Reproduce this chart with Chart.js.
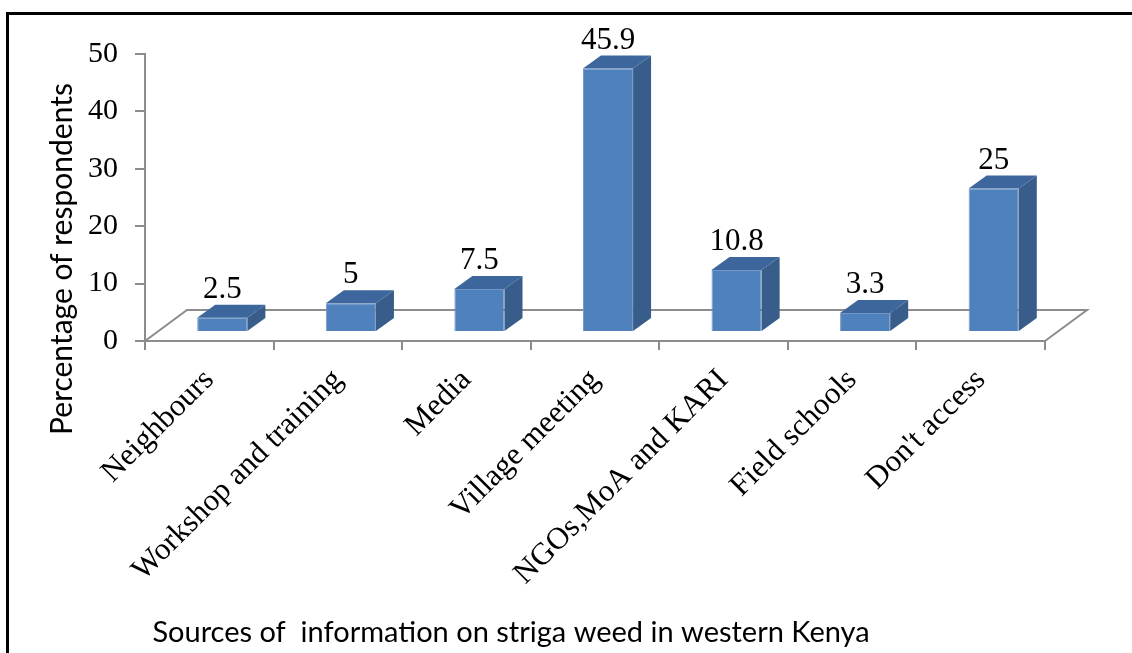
<!DOCTYPE html>
<html>
<head>
<meta charset="utf-8">
<script src="https://cdn.jsdelivr.net/npm/chart.js@4.4.0/dist/chart.umd.min.js"></script>
<style>
  html, body { margin: 0; padding: 0; background: #fff; overflow: hidden; }
  #wrap { position: relative; width: 1132px; height: 653px; }
  #wrap canvas { position: absolute; left: 0; top: 0; }
  #frame { position: absolute; left: 6px; top: 12px; right: -10px; bottom: -10px;
    border-top: 3px solid #000; border-left: 3px solid #000; pointer-events: none; }
</style>
</head>
<body>
<div id="wrap">
  <canvas id="chart" width="1132" height="653"></canvas>
  <div id="frame"></div>
</div>
<script>
// ─── DATA ───
const categories = ['Neighbours', 'Workshop and training', 'Media', 'Village meeting',
  'NGOs,MoA and KARI', 'Field schools', "Don't access"];
const percentages = [2.5, 5, 7.5, 45.9, 10.8, 3.3, 25];
const yTicks = [0, 10, 20, 30, 40, 50];
const yTitle = 'Percentage of respondents';
const xTitle = 'Sources of  information on striga weed in western Kenya';

// ─── STYLE ───
const SERIF = "'Liberation Serif', 'Times New Roman', serif";
const SANS = "Lato, 'Liberation Sans', sans-serif";
const AXIS_GREY = '#8c8c8c';
const FRONT = '#4f81bd', SIDE = '#385d8a', TOP = '#3d679c';
const BAR_SHIFT = { x: 13, y: -9 };    // bars sit a little behind the front edge
const BAR_DEPTH = { x: 18, y: -13 };   // depth of each box
const FLOOR_DEPTH = { x: 42, y: -31 }; // depth of the floor

// fake 3D: floor outline, box sides/tops, value labels, axis titles
const bar3d = {
  id: 'bar3d',
  beforeDatasetsDraw(chart) {
    const { ctx, chartArea: a } = chart;
    ctx.save();
    ctx.strokeStyle = AXIS_GREY;
    ctx.lineWidth = 2;
    ctx.beginPath();
    ctx.moveTo(a.left, a.bottom);
    ctx.lineTo(a.left + FLOOR_DEPTH.x, a.bottom + FLOOR_DEPTH.y);
    ctx.lineTo(a.right + FLOOR_DEPTH.x, a.bottom + FLOOR_DEPTH.y);
    ctx.lineTo(a.right, a.bottom);
    ctx.stroke();
    ctx.restore();
  },
  beforeDatasetDraw(chart) {
    chart.ctx.save();
    chart.ctx.translate(BAR_SHIFT.x, BAR_SHIFT.y);
  },
  afterDatasetDraw(chart, args) {
    const ctx = chart.ctx;
    const dx = BAR_DEPTH.x, dy = BAR_DEPTH.y;
    args.meta.data.forEach(bar => {
      const { x, y, base, width } = bar.getProps(['x', 'y', 'base', 'width'], true);
      const l = x - width / 2, r = x + width / 2;
      ctx.fillStyle = SIDE;
      ctx.beginPath();
      ctx.moveTo(r, y); ctx.lineTo(r + dx, y + dy);
      ctx.lineTo(r + dx, base + dy); ctx.lineTo(r, base);
      ctx.closePath(); ctx.fill();
      ctx.fillStyle = TOP;
      ctx.beginPath();
      ctx.moveTo(l, y); ctx.lineTo(l + dx, y + dy);
      ctx.lineTo(r + dx, y + dy); ctx.lineTo(r, y);
      ctx.closePath(); ctx.fill();
    });
    ctx.restore();
  },
  afterDatasetsDraw(chart) {
    const ctx = chart.ctx;
    const meta = chart.getDatasetMeta(0);
    ctx.save();
    ctx.fillStyle = '#000';
    ctx.font = `31px ${SERIF}`;
    ctx.textAlign = 'center';
    ctx.textBaseline = 'alphabetic';
    meta.data.forEach((bar, i) => {
      const lx = bar.x + BAR_SHIFT.x;
      const ly = bar.y + BAR_SHIFT.y + BAR_DEPTH.y - 7;
      ctx.fillText(String(percentages[i]), lx, ly);
    });

    ctx.font = `29px ${SANS}`;
    ctx.textBaseline = 'middle';
    ctx.fillText(xTitle, 511, 633);

    ctx.font = `30px ${SANS}`;
    ctx.translate(62, 259);
    ctx.rotate(-Math.PI / 2);
    ctx.fillText(yTitle, 0, 0);
    ctx.restore();
  },
};

new Chart(document.getElementById('chart'), {
  type: 'bar',
  data: {
    labels: categories,
    datasets: [{
      data: percentages,
      backgroundColor: FRONT,
      borderColor: '#7396c6',
      borderWidth: 1,
      barPercentage: 0.39,
      categoryPercentage: 1,
      clip: false,
    }],
  },
  options: {
    responsive: false,
    animation: false,
    devicePixelRatio: 1,
    layout: { padding: { top: 54, right: 87, left: 0, bottom: 0 } },
    plugins: { legend: { display: false }, tooltip: { enabled: false } },
    scales: {
      x: {
        afterFit: s => { s.height = 312; },
        grid: { drawOnChartArea: false, tickLength: 9, color: AXIS_GREY, lineWidth: 2, offset: true },
        border: { color: AXIS_GREY, width: 2 },
        ticks: { color: '#000', font: { family: SERIF, size: 31 }, minRotation: 45, maxRotation: 45,
          autoSkip: false, padding: 12 },
      },
      y: {
        min: 0, max: 50,
        afterFit: s => { s.width = 145; },
        afterBuildTicks: s => { s.ticks = yTicks.map(v => ({ value: v })); },
        grid: { drawOnChartArea: false, tickLength: 10, color: AXIS_GREY, lineWidth: 2 },
        border: { color: AXIS_GREY, width: 2 },
        ticks: { color: '#000', font: { family: SERIF, size: 30 }, padding: 17 },
      },
    },
  },
  plugins: [bar3d],
});
</script>
</body>
</html>
